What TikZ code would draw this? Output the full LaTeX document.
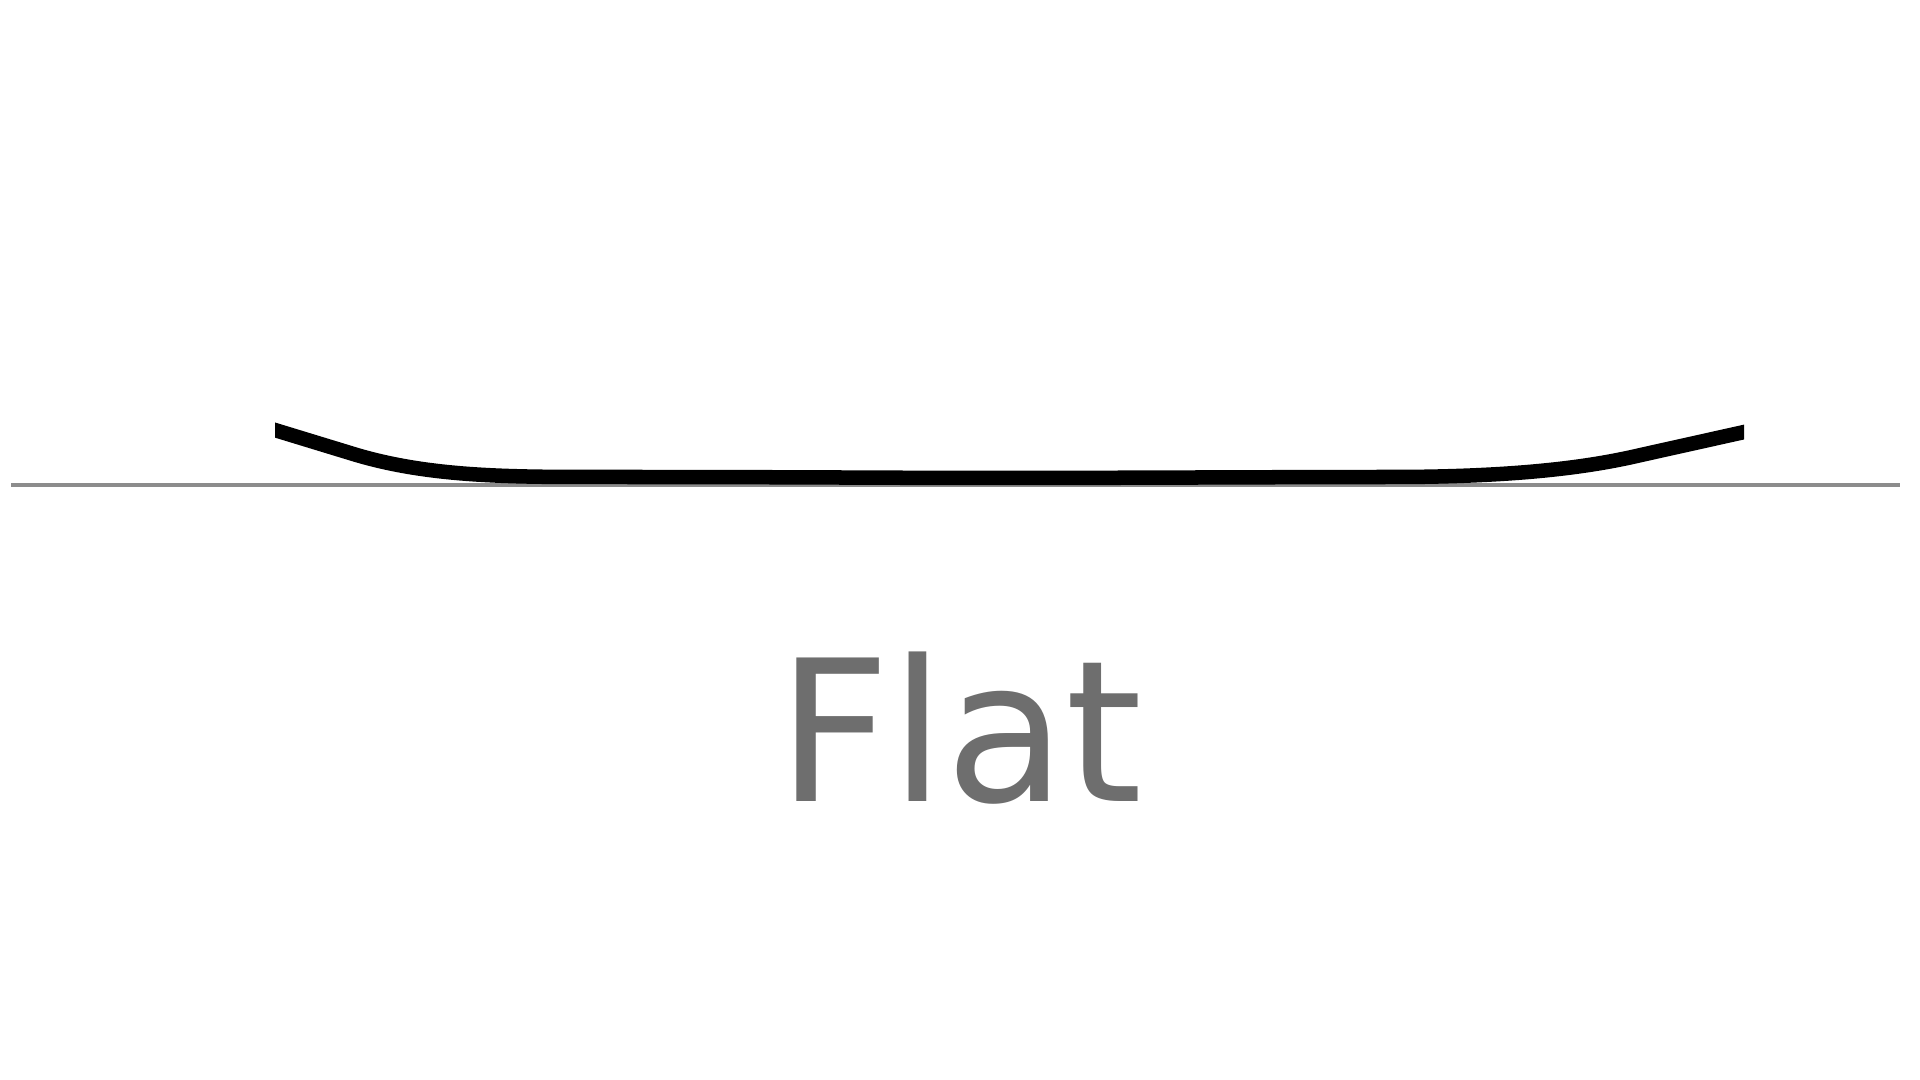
\documentclass[tikz,border=0pt]{standalone}
\usepackage{fontspec}
\setmainfont{DejaVu Sans}
\usetikzlibrary{positioning}
\definecolor{groundgray}{HTML}{8C8C8C}
\definecolor{labelgray}{HTML}{6E6E6E}

\begin{document}
\begin{tikzpicture}[x=0.01cm, y=-0.01cm,
 ground/.style={draw=groundgray, line width=0.04cm},
 board/.style={draw=black, line width=0.145cm, line cap=butt, line join=round},
 caption/.style={text=labelgray, font=\fontsize{56}{60}\selectfont, inner sep=0pt, anchor=base}]
\useasboundingbox[fill=white] (0,0) rectangle (1920,1080);
\draw[ground] (11,485.5) -- (1900,485.5);
\begin{scope}
\clip (275,300) rectangle (1744,600);
\draw[board] (260,425.5) -- (355,454.5)
 .. controls (430,477) and (510,477) .. (600,477)
 .. controls (800,477) and (900,478) .. (1000,478)
 .. controls (1100,478) and (1300,477) .. (1400,477)
 .. controls (1520,476.5) and (1590,467) .. (1641,455)
 -- (1760,428.5);
\end{scope}
\node[caption] (lbl) at (960,802) {Flat};
\end{tikzpicture}
\end{document}
